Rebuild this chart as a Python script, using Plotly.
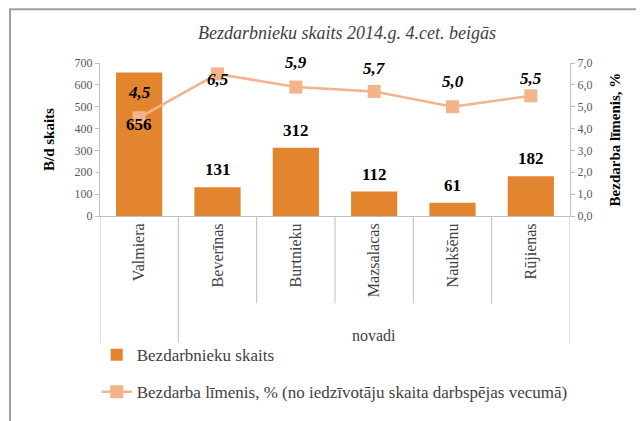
import plotly.graph_objects as go

categories = ["Valmiera", "Beverīnas", "Burtnieku", "Mazsalacas", "Naukšēnu", "Rūjienas"]
unemployed = [656, 131, 312, 112, 61, 182]
rate = [4.5, 6.5, 5.9, 5.7, 5.0, 5.5]
left_ticks = [0, 100, 200, 300, 400, 500, 600, 700]
right_ticks = [0, 1, 2, 3, 4, 5, 6, 7]

# style (label offsets in px)
bar_label_shift = [-40, 6, 6, 6, 6, 6]
line_label_shift = [25, -6, 25, 23, 25, 17]

SERIF = "Liberation Serif"
BAR_COLOR = "#E3842F"
LINE_COLOR = "#F5B38A"

fig = go.Figure()
fig.add_trace(go.Bar(
    x=categories, y=unemployed, name="Bezdarbnieku skaits",
    marker=dict(color=BAR_COLOR, line=dict(width=0)), width=0.59,
    legendgroup="a",
))
fig.add_trace(go.Scatter(
    x=categories, y=rate, name="Bezdarba līmenis, % (no iedzīvotāju skaita darbspējas vecumā)",
    mode="lines+markers", yaxis="y2",
    line=dict(color=LINE_COLOR, width=2.5),
    marker=dict(symbol="square", size=13, color=LINE_COLOR),
    legendgroup="b",
))

annotations = []
for i, (c, v) in enumerate(zip(categories, unemployed)):
    annotations.append(dict(
        x=c, y=v, xref="x", yref="y", text=f"<b>{v}</b>", showarrow=False,
        yanchor="bottom" if bar_label_shift[i] > 0 else "top", yshift=bar_label_shift[i],
        font=dict(family=SERIF, size=17, color="#000000"),
    ))
for i, (c, v) in enumerate(zip(categories, rate)):
    annotations.append(dict(
        x=c, y=v, xref="x", yref="y2", text="<b><i>" + f"{v:.1f}".replace(".", ",") + "</i></b>",
        showarrow=False, yanchor="middle", yshift=line_label_shift[i],
        font=dict(family=SERIF, size=17, color="#000000"),
    ))
annotations.append(dict(
    x=(0.5 + len(categories) - 0.5) / 2, y=-0.78, xref="x", yref="paper", text="novadi",
    showarrow=False, yanchor="middle", font=dict(family=SERIF, size=16, color="#404040"),
))

shapes = []
n = len(categories)
for k in range(n + 1):
    xpos = k - 0.5
    long = k in (0, 1, n)
    shapes.append(dict(
        type="line", xref="x", yref="paper", x0=xpos, x1=xpos, y0=0,
        y1=-0.83 if long else -0.57, line=dict(color="#BFBFBF", width=1),
    ))
shapes.append(dict(
    type="rect", xref="paper", yref="paper", x0=-0.1915, x1=1.25, y0=-1.45, y1=1.351,
    line=dict(color="#A0A0A0", width=2), fillcolor="rgba(0,0,0,0)", layer="below",
))

fig.update_layout(
    width=636, height=413,
    margin=dict(l=92, r=74, t=55, b=204),
    paper_bgcolor="white", plot_bgcolor="white",
    font=dict(family=SERIF),
    separators=", ",
    title=dict(
        text="<i>Bezdarbnieku skaits 2014.g. 4.cet. beigās</i>", x=0.533, xanchor="center",
        y=1 - 25 / 413, yanchor="middle",
        font=dict(family=SERIF, size=18, color="#404040"),
    ),
    xaxis=dict(
        type="category", tickangle=-90, showline=True, linecolor="#BFBFBF", linewidth=1,
        ticks="", showgrid=False, tickfont=dict(family=SERIF, size=16, color="#404040"),
        range=[-0.5, n - 0.5],
    ),
    yaxis=dict(
        range=[0, 700], tickvals=left_ticks, showgrid=False, showline=True,
        linecolor="#BFBFBF", ticks="outside", ticklen=4, tickcolor="#BFBFBF",
        tickfont=dict(family=SERIF, size=12, color="#595959"),
        title=dict(text="<b>B/d skaits</b>", font=dict(family=SERIF, size=15, color="#000000"), standoff=16),
        zeroline=False,
    ),
    yaxis2=dict(
        range=[0, 7], tickvals=right_ticks, tickformat=".1f", overlaying="y", side="right",
        showgrid=False, showline=True, linecolor="#BFBFBF", ticks="outside", ticklen=4,
        tickcolor="#BFBFBF", tickfont=dict(family=SERIF, size=12, color="#595959"),
        title=dict(text="<b>Bezdarba līmenis, %</b>", font=dict(family=SERIF, size=15, color="#000000"), standoff=18),
        zeroline=False,
    ),
    legend=dict(
        orientation="v", x=-0.007, y=-0.78, xanchor="left", yanchor="top",
        font=dict(family=SERIF, size=17, color="#404040"), tracegroupgap=12,
        bgcolor="rgba(0,0,0,0)",
    ),
    annotations=annotations, shapes=shapes, bargap=0.41,
)

fig.write_html("out.html")
